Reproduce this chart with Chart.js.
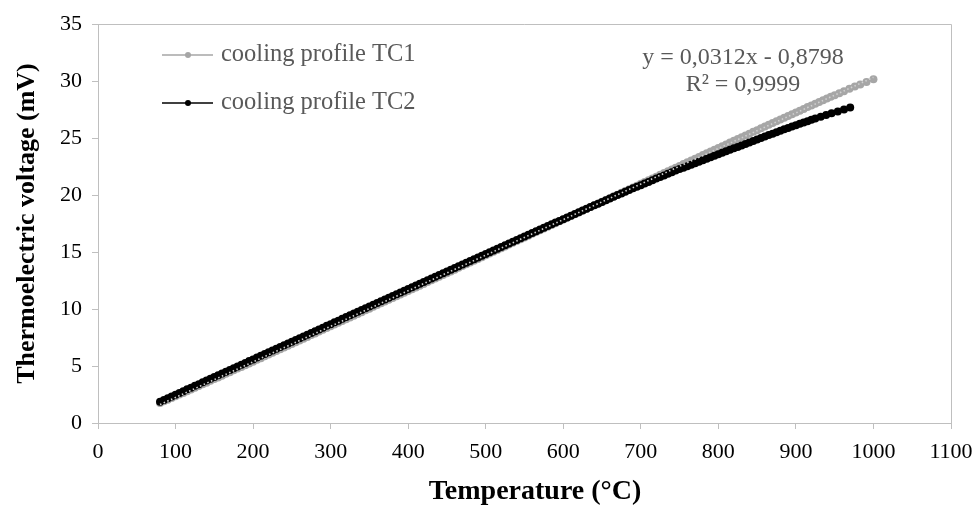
<!DOCTYPE html>
<html>
<head>
<meta charset="utf-8">
<script src="https://cdn.jsdelivr.net/npm/chart.js@4/dist/chart.umd.min.js"></script>
<style>
  body { margin: 0; background: #fff; }
  #wrap { width: 977px; height: 505px; }
</style>
</head>
<body>
<div id="wrap"><canvas id="chart1" width="977" height="505"></canvas></div>
<script>
// cooling profile TC1: temperature (°C) and thermoelectric voltage (mV)
const tempTC1 = [80, 85, 90, 95, 100, 105, 110, 115, 120, 125, 130, 135, 140, 145, 150, 155, 160, 165, 170, 175,
    180, 185, 190, 195, 200, 205, 210, 215, 220, 225, 230, 235, 240, 245, 250, 255, 260, 265, 270, 275,
    280, 285, 290, 295, 300, 305, 310, 315, 320, 325, 330, 335, 340, 345, 350, 355, 360, 365, 370, 375,
    380, 385, 390, 395, 400, 405, 410, 415, 420, 425, 430, 435, 440, 445, 450, 455, 460, 465, 470, 475,
    480, 485, 490, 495, 500, 505, 510, 515, 520, 525, 530, 535, 540, 545, 550, 555, 560, 565, 570, 575,
    580, 585, 590, 595, 600, 605, 610, 615, 620, 625, 630, 635, 640, 645, 650, 655, 660, 665, 670, 675,
    680, 685, 690, 695, 700, 705, 710, 715, 720, 725, 730, 735, 740, 745, 750, 755, 760, 765, 770, 775,
    780, 785, 790, 795, 800, 805, 810, 815, 820, 825, 830, 835, 840, 845, 850, 855, 860, 865, 870, 875,
    880, 885, 890, 895, 900, 905, 910, 915, 920, 925, 930, 935, 940, 945, 950, 956, 962, 969, 976, 983,
    991, 1000];
const voltTC1 = [1.75, 1.90, 2.04, 2.19, 2.34, 2.49, 2.64, 2.79, 2.94, 3.09, 3.24, 3.39, 3.54, 3.70, 3.85, 4.00, 4.15, 4.31, 4.46, 4.62,
    4.77, 4.92, 5.07, 5.23, 5.38, 5.54, 5.69, 5.85, 6.00, 6.16, 6.31, 6.47, 6.62, 6.78, 6.93, 7.09, 7.24, 7.40, 7.55, 7.71,
    7.86, 8.02, 8.17, 8.33, 8.48, 8.64, 8.79, 8.95, 9.10, 9.26, 9.41, 9.57, 9.72, 9.88, 10.03, 10.19, 10.34, 10.50, 10.65, 10.81,
    10.96, 11.12, 11.27, 11.43, 11.58, 11.74, 11.89, 12.05, 12.20, 12.36, 12.52, 12.68, 12.83, 12.99, 13.14, 13.30, 13.45, 13.61, 13.77, 13.93,
    14.08, 14.24, 14.39, 14.55, 14.71, 14.87, 15.02, 15.18, 15.33, 15.49, 15.65, 15.81, 15.96, 16.12, 16.27, 16.43, 16.59, 16.75, 16.90, 17.06,
    17.21, 17.37, 17.53, 17.69, 17.84, 18.00, 18.15, 18.31, 18.47, 18.63, 18.78, 18.94, 19.09, 19.25, 19.41, 19.57, 19.72, 19.88, 20.03, 20.19,
    20.35, 20.51, 20.66, 20.82, 20.98, 21.14, 21.29, 21.45, 21.61, 21.77, 21.92, 22.08, 22.24, 22.40, 22.55, 22.71, 22.87, 23.03, 23.18, 23.34,
    23.50, 23.66, 23.81, 23.97, 24.12, 24.28, 24.44, 24.60, 24.75, 24.91, 25.06, 25.22, 25.38, 25.54, 25.69, 25.85, 26.00, 26.16, 26.31, 26.47,
    26.62, 26.78, 26.93, 27.09, 27.24, 27.40, 27.55, 27.71, 27.86, 28.01, 28.16, 28.31, 28.46, 28.61, 28.76, 28.93, 29.11, 29.31, 29.51, 29.70,
    29.92, 30.15];

// cooling profile TC2
const tempTC2 = [80, 85, 90, 95, 100, 105, 110, 115, 120, 125, 130, 135, 140, 145, 150, 155, 160, 165, 170, 175,
    180, 185, 190, 195, 200, 205, 210, 215, 220, 225, 230, 235, 240, 245, 250, 255, 260, 265, 270, 275,
    280, 285, 290, 295, 300, 305, 310, 315, 320, 325, 330, 335, 340, 345, 350, 355, 360, 365, 370, 375,
    380, 385, 390, 395, 400, 405, 410, 415, 420, 425, 430, 435, 440, 445, 450, 455, 460, 465, 470, 475,
    480, 485, 490, 495, 500, 505, 510, 515, 520, 525, 530, 535, 540, 545, 550, 555, 560, 565, 570, 575,
    580, 585, 590, 595, 600, 605, 610, 615, 620, 625, 630, 635, 640, 645, 650, 655, 660, 665, 670, 675,
    680, 685, 690, 695, 700, 705, 710, 715, 720, 725, 730, 735, 740, 745, 750, 755, 760, 765, 770, 775,
    780, 785, 790, 795, 800, 805, 810, 815, 820, 825, 830, 835, 840, 845, 850, 855, 860, 865, 870, 875,
    880, 885, 890, 895, 900, 905, 910, 915, 920, 925, 932, 939, 946, 954, 962, 970];
const voltTC2 = [1.86, 2.02, 2.17, 2.33, 2.48, 2.64, 2.79, 2.95, 3.10, 3.26, 3.41, 3.57, 3.72, 3.88, 4.03, 4.19, 4.34, 4.50, 4.65, 4.81,
    4.96, 5.12, 5.27, 5.43, 5.58, 5.74, 5.89, 6.05, 6.20, 6.36, 6.51, 6.67, 6.82, 6.97, 7.12, 7.28, 7.43, 7.59, 7.74, 7.90,
    8.05, 8.21, 8.36, 8.52, 8.67, 8.83, 8.98, 9.14, 9.29, 9.45, 9.60, 9.76, 9.91, 10.06, 10.21, 10.37, 10.52, 10.68, 10.83, 10.99,
    11.14, 11.29, 11.44, 11.60, 11.75, 11.91, 12.06, 12.22, 12.37, 12.53, 12.68, 12.83, 12.98, 13.14, 13.29, 13.45, 13.60, 13.76, 13.91, 14.06,
    14.21, 14.37, 14.52, 14.68, 14.83, 14.98, 15.13, 15.29, 15.44, 15.60, 15.75, 15.90, 16.05, 16.21, 16.36, 16.51, 16.66, 16.82, 16.97, 17.12,
    17.27, 17.43, 17.58, 17.73, 17.88, 18.03, 18.18, 18.34, 18.49, 18.64, 18.79, 18.94, 19.09, 19.24, 19.39, 19.54, 19.69, 19.84, 19.99, 20.14,
    20.29, 20.44, 20.59, 20.73, 20.86, 21.01, 21.15, 21.30, 21.44, 21.58, 21.72, 21.86, 22.00, 22.14, 22.27, 22.40, 22.53, 22.66, 22.79, 22.92,
    23.05, 23.18, 23.31, 23.44, 23.57, 23.70, 23.83, 23.96, 24.09, 24.22, 24.35, 24.48, 24.61, 24.74, 24.87, 25.00, 25.13, 25.26, 25.38, 25.51,
    25.63, 25.76, 25.88, 26.00, 26.12, 26.24, 26.36, 26.48, 26.59, 26.71, 26.87, 27.02, 27.17, 27.33, 27.51, 27.68];

// linear trendline end points (y = 0,0312x - 0,8798)
const trendX = [80, 1000];
const trendY = [1.62, 30.32];

const xTicks = [0, 100, 200, 300, 400, 500, 600, 700, 800, 900, 1000, 1100];
const yTicks = [0, 5, 10, 15, 20, 25, 30, 35];

const seriesNames = ['cooling profile TC1', 'cooling profile TC2'];
const equationLines = ['y = 0,0312x - 0,8798', 'R\u00b2 = 0,9999'];
const xTitle = 'Temperature (\u00b0C)';

const toPoints = (xs, ys) => xs.map((x, i) => ({ x: x, y: ys[i] }));

const serif = "'Liberation Serif', 'Times New Roman', serif";
const axisGrey = '#bfbfbf';

// legend, trendline label, x title and plot frame
const extras = {
    id: 'extras',
    afterDraw(chart) {
        const ctx = chart.ctx;
        const area = chart.chartArea;
        ctx.save();
        ctx.strokeStyle = axisGrey;
        ctx.lineWidth = 1;
        ctx.beginPath();
        ctx.moveTo(area.left, area.top + 0.5);
        ctx.lineTo(area.right + 0.5, area.top + 0.5);
        ctx.lineTo(area.right + 0.5, area.bottom);
        ctx.stroke();

        const colors = ['#a6a6a6', '#000000'];
        const rows = [55, 103];
        ctx.font = '24.5px ' + serif;
        ctx.textBaseline = 'middle';
        rows.forEach((y, i) => {
            ctx.strokeStyle = colors[i];
            ctx.fillStyle = colors[i];
            ctx.lineWidth = 1.3;
            ctx.beginPath();
            ctx.moveTo(162, y);
            ctx.lineTo(213, y);
            ctx.stroke();
            ctx.beginPath();
            ctx.arc(188, y, 3, 0, Math.PI * 2);
            ctx.fill();
            ctx.fillStyle = '#595959';
            ctx.textAlign = 'left';
            ctx.fillText(seriesNames[i], 221, y);
        });

        ctx.fillStyle = '#595959';
        ctx.textAlign = 'center';
        ctx.font = '24px ' + serif;
        ctx.fillText(equationLines[0], 743, 58);
        ctx.fillText(equationLines[1], 743, 85);

        ctx.fillStyle = '#000';
        ctx.font = 'bold 28px ' + serif;
        ctx.fillText(xTitle, 535, 492);
        ctx.restore();
    }
};

const config1 = {
    type: 'scatter',
    data: {
        datasets: [{
            label: seriesNames[0],
            data: toPoints(tempTC1, voltTC1),
            showLine: true,
            borderColor: '#a6a6a6',
            backgroundColor: '#a6a6a6',
            borderWidth: 1,
            pointRadius: 4,
            pointBorderWidth: 0,
            order: 3
        }, {
            label: seriesNames[1],
            data: toPoints(tempTC2, voltTC2),
            showLine: true,
            borderColor: '#000000',
            backgroundColor: '#000000',
            borderWidth: 1,
            pointRadius: 4,
            pointBorderWidth: 0,
            order: 2
        }, {
            label: 'trend',
            data: toPoints(trendX, trendY),
            showLine: true,
            borderColor: '#d0d0d0',
            borderWidth: 1.6,
            borderDash: [1.5, 2.5],
            pointRadius: 0,
            order: 1
        }]
    },
    options: {
        responsive: false,
        animation: false,
        layout: { padding: { left: 0, right: 26, top: 24, bottom: 0 } },
        plugins: {
            legend: { display: false },
            tooltip: { enabled: false }
        },
        scales: {
            x: {
                type: 'linear',
                min: 0,
                max: 1100,
                afterBuildTicks: (scale) => { scale.ticks = xTicks.map(v => ({ value: v })); },
                afterFit: (scale) => {
                    scale.height = 82;
                    // let the layout padding decide the right edge
                    scale.paddingRight = 0;
                    scale.paddingLeft = 0;
                },
                grid: { drawOnChartArea: false, color: axisGrey, tickLength: 6 },
                border: { color: axisGrey },
                ticks: {
                    color: '#000',
                    font: { family: serif, size: 22 },
                    padding: 10,
                    maxRotation: 0,
                    callback: (v) => String(v)
                }
            },
            y: {
                type: 'linear',
                min: 0,
                max: 35,
                afterBuildTicks: (scale) => { scale.ticks = yTicks.map(v => ({ value: v })); },
                afterFit: (scale) => { scale.width = 98; },
                grid: { drawOnChartArea: false, color: axisGrey, tickLength: 6 },
                border: { color: axisGrey },
                ticks: {
                    color: '#000',
                    font: { family: serif, size: 22 },
                    padding: 10,
                    callback: (v) => String(v)
                },
                title: {
                    display: true,
                    text: 'Thermoelectric voltage (mV)',
                    color: '#000',
                    font: { family: serif, size: 26, weight: 'bold', lineHeight: 1 },
                    padding: { top: 14, bottom: 0 }
                }
            }
        }
    },
    plugins: [extras]
};

const chart11 = document.getElementById('chart1').getContext('2d');
const chart1 = new Chart(chart11, config1);
</script>
</body>
</html>
